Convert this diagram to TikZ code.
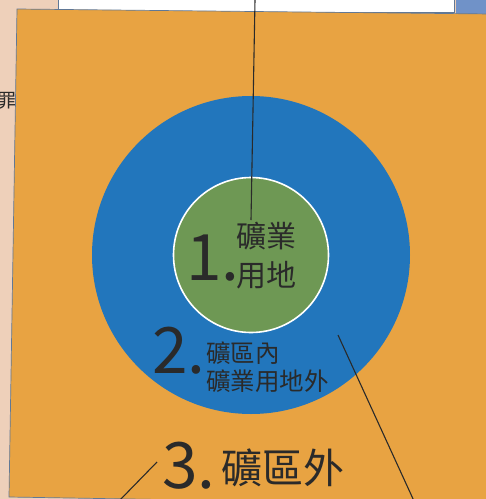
\documentclass[tikz,border=0pt]{standalone}
\usepackage{fontspec}
\newfontfamily\cjk{Noto Sans CJK TC}
\definecolor{paper}{RGB}{238,208,186}
\definecolor{orangebg}{RGB}{232,163,66}
\definecolor{ringblue}{RGB}{34,118,188}
\definecolor{coregreen}{RGB}{110,152,84}
\definecolor{inkgray}{RGB}{42,42,42}
\definecolor{stripblue}{RGB}{112,146,200}
\definecolor{edgeblue}{RGB}{96,120,150}
\tikzset{
  leader/.style={draw=inkgray, line width=1.1pt},
  numtext/.style={text=inkgray, inner sep=0pt, font=\cjk\fontsize{64}{64}\selectfont},
  cjktext/.style={text=inkgray, inner sep=0pt, align=left},
}
\begin{document}
\begin{tikzpicture}[x=1pt,y=-1pt]
\useasboundingbox (0,0) rectangle (486,499);
\fill[paper] (0,0) rectangle (486,499);
% partial character at left edge
\node[text=inkgray, inner sep=0pt, anchor=east, font=\cjk\fontsize{19}{19}\selectfont] (edgechar) at (17,101) {罪};
% white box at top and blue strip
\filldraw[fill=white, draw=edgeblue, line width=0.5pt] (58,-2) rectangle (454,12);
\fill[stripblue] (456,0) rectangle (486,14);
% orange field
\filldraw[fill=orangebg, draw=edgeblue, line width=0.7pt] (17,9) -- (492,14) -- (492,505) -- (9,497) -- cycle;
% circles
\node[circle, fill=ringblue, minimum size=318pt, inner sep=0pt] (zone2) at (251,255) {};
\node[circle, fill=coregreen, draw=white, line width=1.6pt, minimum size=155pt, inner sep=0pt] (zone1) at (251,255) {};
% texts
\node[numtext, anchor=base] (n1) at (213,280) {1.};
\node[cjktext, anchor=west, font=\cjk\fontsize{30}{39}\selectfont] (t1) at (236,256) {礦業\\用地};
\node[numtext, anchor=base] (n2) at (179,373) {2.};
\node[cjktext, anchor=west, font=\cjk\fontsize{24.5}{28}\selectfont] (t2) at (206,367.5) {礦區內\\礦業用地外};
\node[numtext, anchor=base] (n3) at (189,488) {3.};
\node[cjktext, anchor=west, font=\cjk\fontsize{41}{41}\selectfont] (t3) at (221,467.5) {礦區外};
% leader lines
\coordinate (topend) at (255,0);
\coordinate (oneend) at (251,220);
\coordinate (twostart) at (338,335);
\coordinate (twoend) at (414,501);
\coordinate (threestart) at (157,462);
\coordinate (threeend) at (119,501);
\draw[leader] (topend) -- (oneend);
\draw[leader] (twostart) -- (twoend);
\draw[leader] (threestart) -- (threeend);
\end{tikzpicture}
\end{document}
